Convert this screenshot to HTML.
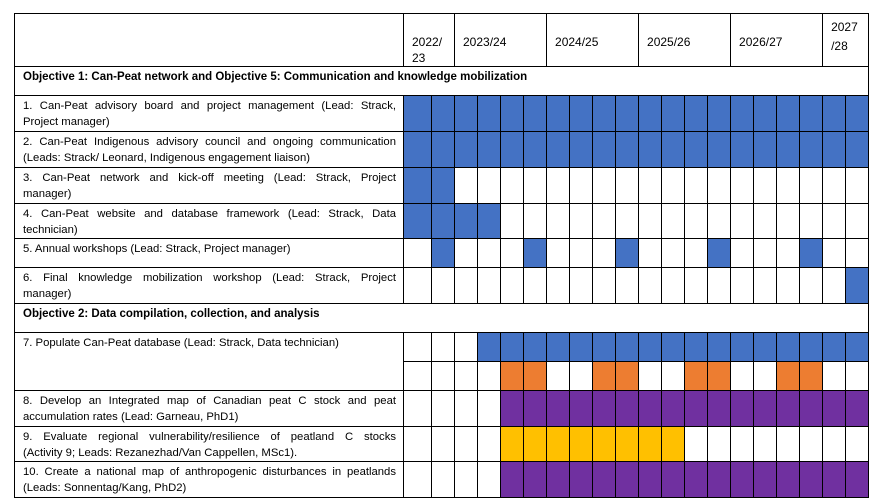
<!DOCTYPE html>
<html><head><meta charset="utf-8"><style>
body{margin:0;background:#fff;width:883px;height:503px;overflow:hidden;font-family:"Liberation Sans",sans-serif;font-size:11.3px;color:#000}
table{position:absolute;left:14px;top:13px;border-collapse:collapse;table-layout:fixed;width:855px}
td{border:1px solid #000;padding:0;vertical-align:top;box-sizing:border-box;overflow:hidden}
td.l{padding:2px 7px 0 8px;line-height:16px}
td.l div{white-space:nowrap;height:16px}
td.l div.j{white-space:normal;text-align:justify;text-align-last:justify;height:16px;overflow:hidden}
.b{background:#4472C4}.o{background:#ED7D31}.p{background:#7030A0}.y{background:#FFC000}
.h{padding:20px 0 0 8px;line-height:16px;font-size:12px}
.ob{font-weight:bold;padding:2px 0 0 8px;line-height:16px;font-size:11.5px}
</style></head><body>
<table>
<colgroup><col style="width:389px"><col style="width:28px"><col span="19" style="width:23px"></colgroup>
<tr style="height:52px"><td></td><td colspan="2" class="h">2022/<br>23</td><td colspan="4" class="h">2023/24</td><td colspan="4" class="h">2024/25</td><td colspan="4" class="h">2025/26</td><td colspan="4" class="h">2026/27</td><td colspan="2" class="h" style="padding-top:4px;line-height:19px">2027<br>/28</td></tr>
<tr style="height:29px"><td colspan="21" class="ob">Objective 1: Can-Peat network and Objective 5: Communication and knowledge mobilization</td></tr>
<tr style="height:36px"><td class="l"><div class="j">1. Can-Peat advisory board and project management (Lead: Strack,</div><div>Project manager)</div></td><td class="b"></td><td class="b"></td><td class="b"></td><td class="b"></td><td class="b"></td><td class="b"></td><td class="b"></td><td class="b"></td><td class="b"></td><td class="b"></td><td class="b"></td><td class="b"></td><td class="b"></td><td class="b"></td><td class="b"></td><td class="b"></td><td class="b"></td><td class="b"></td><td class="b"></td><td class="b"></td></tr>
<tr style="height:36px"><td class="l"><div class="j">2. Can-Peat Indigenous advisory council and ongoing communication</div><div>(Leads: Strack/ Leonard, Indigenous engagement liaison)</div></td><td class="b"></td><td class="b"></td><td class="b"></td><td class="b"></td><td class="b"></td><td class="b"></td><td class="b"></td><td class="b"></td><td class="b"></td><td class="b"></td><td class="b"></td><td class="b"></td><td class="b"></td><td class="b"></td><td class="b"></td><td class="b"></td><td class="b"></td><td class="b"></td><td class="b"></td><td class="b"></td></tr>
<tr style="height:36px"><td class="l"><div class="j">3. Can-Peat network and kick-off meeting (Lead: Strack, Project</div><div>manager)</div></td><td class="b"></td><td class="b"></td><td></td><td></td><td></td><td></td><td></td><td></td><td></td><td></td><td></td><td></td><td></td><td></td><td></td><td></td><td></td><td></td><td></td><td></td></tr>
<tr style="height:35px"><td class="l"><div class="j">4. Can-Peat website and database framework (Lead: Strack, Data</div><div>technician)</div></td><td class="b"></td><td class="b"></td><td class="b"></td><td class="b"></td><td></td><td></td><td></td><td></td><td></td><td></td><td></td><td></td><td></td><td></td><td></td><td></td><td></td><td></td><td></td><td></td></tr>
<tr style="height:29px"><td class="l"><div>5. Annual workshops (Lead: Strack, Project manager)</div></td><td></td><td class="b"></td><td></td><td></td><td></td><td class="b"></td><td></td><td></td><td></td><td class="b"></td><td></td><td></td><td></td><td class="b"></td><td></td><td></td><td></td><td class="b"></td><td></td><td></td></tr>
<tr style="height:36px"><td class="l"><div class="j">6. Final knowledge mobilization workshop (Lead: Strack, Project</div><div>manager)</div></td><td></td><td></td><td></td><td></td><td></td><td></td><td></td><td></td><td></td><td></td><td></td><td></td><td></td><td></td><td></td><td></td><td></td><td></td><td></td><td class="b"></td></tr>
<tr style="height:29px"><td colspan="21" class="ob">Objective 2: Data compilation, collection, and analysis</td></tr>
<tr style="height:29px"><td class="l" rowspan="2"><div>7. Populate Can-Peat database (Lead: Strack, Data technician)</div></td><td></td><td></td><td></td><td class="b"></td><td class="b"></td><td class="b"></td><td class="b"></td><td class="b"></td><td class="b"></td><td class="b"></td><td class="b"></td><td class="b"></td><td class="b"></td><td class="b"></td><td class="b"></td><td class="b"></td><td class="b"></td><td class="b"></td><td class="b"></td><td class="b"></td></tr>
<tr style="height:29px"><td></td><td></td><td></td><td></td><td class="o"></td><td class="o"></td><td></td><td></td><td class="o"></td><td class="o"></td><td></td><td></td><td class="o"></td><td class="o"></td><td></td><td></td><td class="o"></td><td class="o"></td><td></td><td></td></tr>
<tr style="height:36px"><td class="l"><div class="j">8. Develop an Integrated map of Canadian peat C stock and peat</div><div>accumulation rates (Lead: Garneau, PhD1)</div></td><td></td><td></td><td></td><td></td><td class="p"></td><td class="p"></td><td class="p"></td><td class="p"></td><td class="p"></td><td class="p"></td><td class="p"></td><td class="p"></td><td class="p"></td><td class="p"></td><td class="p"></td><td class="p"></td><td class="p"></td><td class="p"></td><td class="p"></td><td class="p"></td></tr>
<tr style="height:35px"><td class="l"><div class="j">9. Evaluate regional vulnerability/resilience of peatland C stocks</div><div>(Activity 9; Leads: Rezanezhad/Van Cappellen, MSc1).</div></td><td></td><td></td><td></td><td></td><td class="y"></td><td class="y"></td><td class="y"></td><td class="y"></td><td class="y"></td><td class="y"></td><td class="y"></td><td class="y"></td><td></td><td></td><td></td><td></td><td></td><td></td><td></td><td></td></tr>
<tr style="height:36px"><td class="l"><div class="j">10. Create a national map of anthropogenic disturbances in peatlands</div><div>(Leads: Sonnentag/Kang, PhD2)</div></td><td></td><td></td><td></td><td></td><td class="p"></td><td class="p"></td><td class="p"></td><td class="p"></td><td class="p"></td><td class="p"></td><td class="p"></td><td class="p"></td><td class="p"></td><td class="p"></td><td class="p"></td><td class="p"></td><td class="p"></td><td class="p"></td><td class="p"></td><td class="p"></td></tr>
</table>
</body></html>
